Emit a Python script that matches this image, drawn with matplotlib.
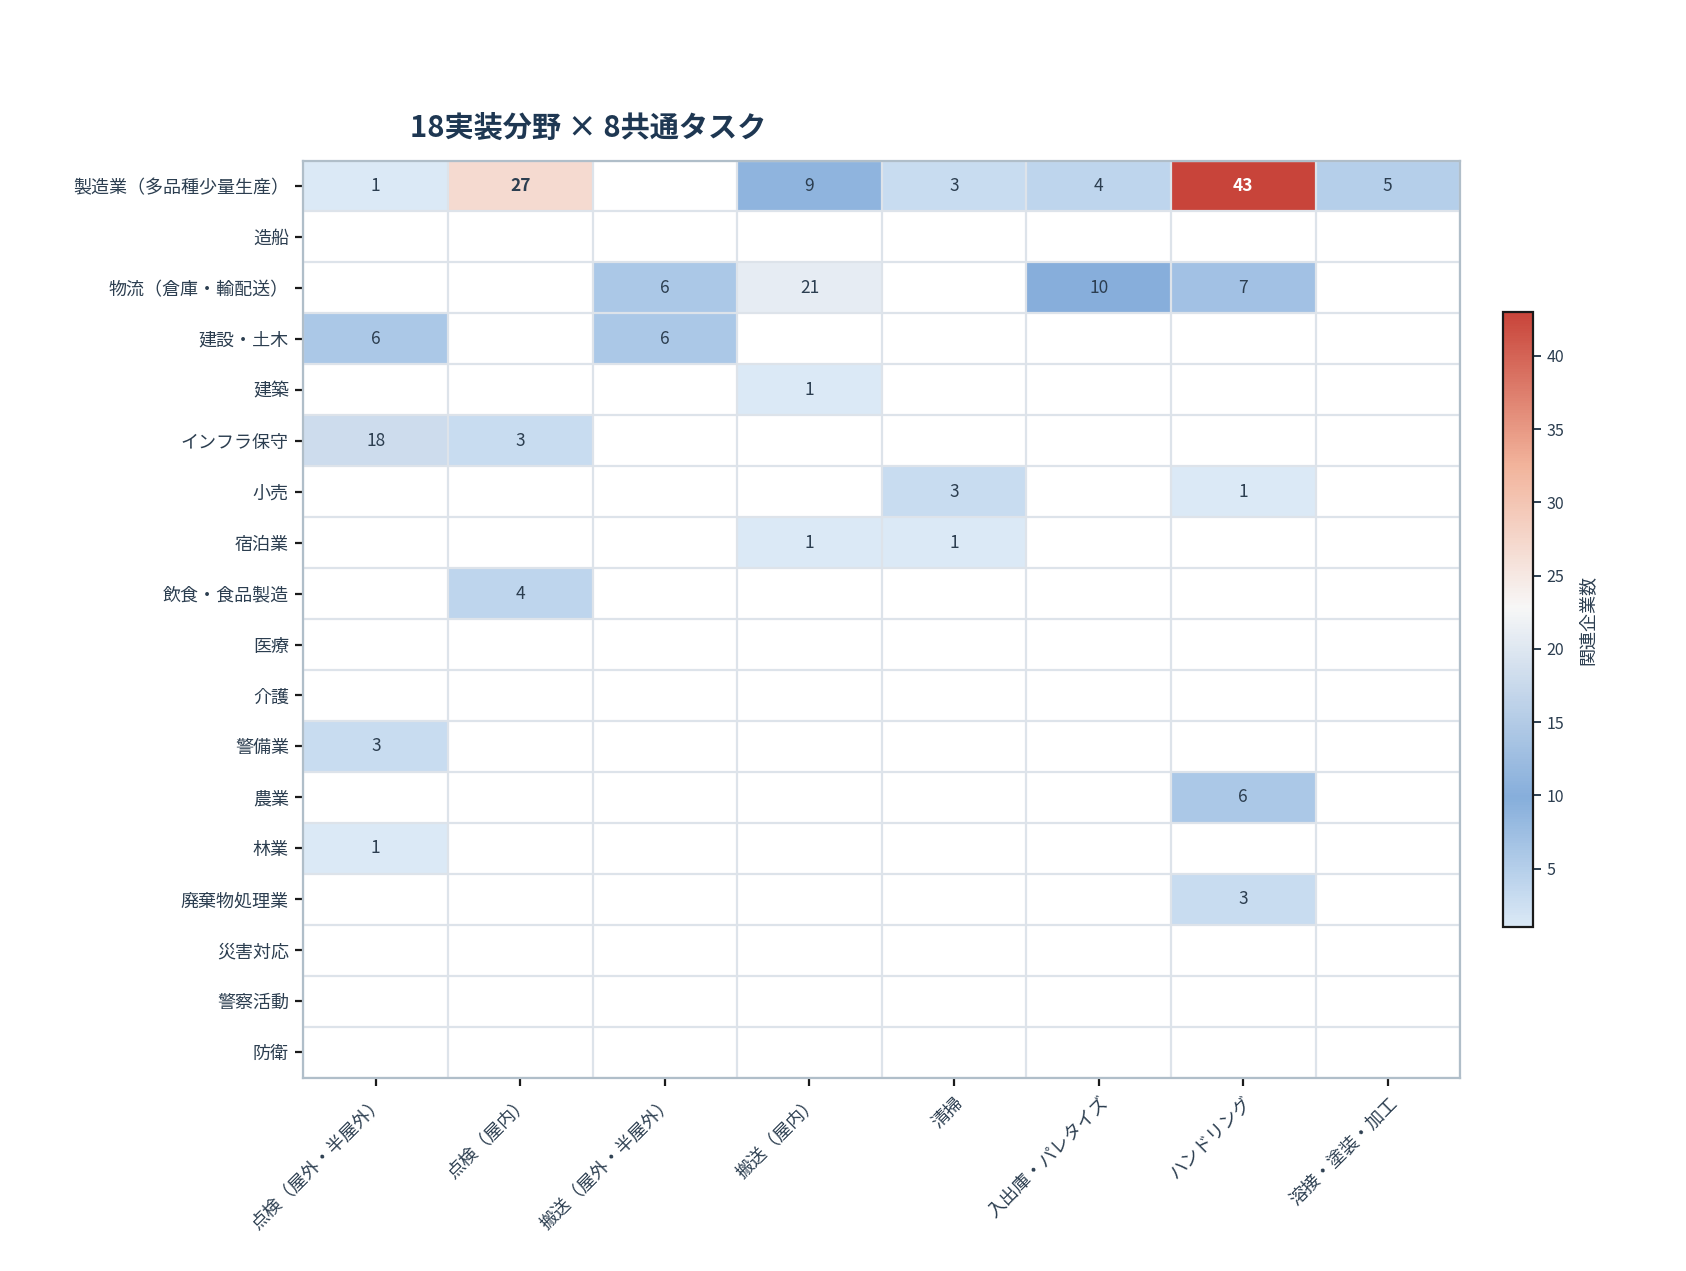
import numpy as np
import matplotlib
matplotlib.use("Agg")
import matplotlib.pyplot as plt
from matplotlib.colors import LinearSegmentedColormap

plt.rcParams['font.family'] = ['Noto Sans CJK JP', 'DejaVu Sans']

fields = ["製造業（多品種少量生産）", "造船", "物流（倉庫・輸配送）", "建設・土木", "建築",
          "インフラ保守", "小売", "宿泊業", "飲食・食品製造", "医療", "介護", "警備業",
          "農業", "林業", "廃棄物処理業", "災害対応", "警察活動", "防衛"]
tasks = ["点検（屋外・半屋外）", "点検（屋内）", "搬送（屋外・半屋外）", "搬送（屋内）",
         "清掃", "入出庫・パレタイズ", "ハンドリング", "溶接・塗装・加工"]

N = np.nan
values = [
    [1, 27, N, 9, 3, 4, 43, 5],
    [N, N, N, N, N, N, N, N],
    [N, N, 6, 21, N, 10, 7, N],
    [6, N, 6, N, N, N, N, N],
    [N, N, N, 1, N, N, N, N],
    [18, 3, N, N, N, N, N, N],
    [N, N, N, N, 3, N, 1, N],
    [N, N, N, 1, 1, N, N, N],
    [N, 4, N, N, N, N, N, N],
    [N, N, N, N, N, N, N, N],
    [N, N, N, N, N, N, N, N],
    [3, N, N, N, N, N, N, N],
    [N, N, N, N, N, N, 6, N],
    [1, N, N, N, N, N, N, N],
    [N, N, N, N, N, N, 3, N],
    [N, N, N, N, N, N, N, N],
    [N, N, N, N, N, N, N, N],
    [N, N, N, N, N, N, N, N],
]

data = np.ma.masked_invalid(np.array(values, dtype=float))
vmin, vmax = 1, 43

cmap = LinearSegmentedColormap.from_list(
    "custom",
    [(0.0, "#dbe9f6"), (0.21, "#86aedb"), (0.52, "#f7f7f7"),
     (0.75, "#f2b49c"), (1.0, "#c8443a")])
cmap.set_bad("white")

text_color = "#2c3e50"

fig = plt.figure(figsize=(16.86, 12.71), dpi=100)
ax = fig.add_axes([0.18, 0.1522, 0.686, 0.7215])
cax = fig.add_axes([0.8915, 0.2704, 0.018, 0.4843])

mesh = ax.pcolormesh(np.arange(len(tasks) + 1), np.arange(len(fields) + 1), data,
                     cmap=cmap, vmin=vmin, vmax=vmax)
ax.set_xlim(0, len(tasks))
ax.set_ylim(len(fields), 0)

ax.set_xticks(np.arange(len(tasks)) + 0.5)
ax.set_xticklabels(tasks, rotation=45, ha="right", rotation_mode="anchor",
                   fontsize=13, color=text_color)
ax.set_yticks(np.arange(len(fields)) + 0.5)
ax.set_yticklabels(fields, fontsize=13, color=text_color)
ax.tick_params(axis="both", length=5.5, width=1.6, color="#1a1a1a")
ax.tick_params(axis="y", pad=5)
ax.tick_params(axis="x", pad=6)

ax.set_xticks(np.arange(len(tasks) + 1), minor=True)
ax.set_yticks(np.arange(len(fields) + 1), minor=True)
ax.tick_params(which="minor", length=0)
ax.grid(which="minor", color="#dde3ea", linewidth=1.6)
ax.grid(which="major", visible=False)
ax.set_axisbelow(False)

for s in ax.spines.values():
    s.set_color("#b0bec9")
    s.set_linewidth(1.6)
    s.set_zorder(5)

for i in range(len(fields)):
    for j in range(len(tasks)):
        v = values[i][j]
        if np.isnan(v):
            continue
        color = "white" if v > 35 else text_color
        weight = "bold" if v > 25 else "normal"
        ax.text(j + 0.5, i + 0.5, f"{int(v)}", ha="center", va="center",
                fontsize=12.5, color=color, fontweight=weight)

cb = fig.colorbar(mesh, cax=cax)
cb.outline.set_edgecolor("#1a1a1a")
cb.outline.set_linewidth(1.6)
cb.set_ticks([5, 10, 15, 20, 25, 30, 35, 40])
cb.ax.tick_params(labelsize=11.5, colors=text_color, length=6, width=1.4)
cb.set_label("関連企業数", fontsize=13, color=text_color, labelpad=10)

fig.text(0.349, 0.8995, "18実装分野 × 8共通タスク", ha="center", va="center",
         fontsize=21, fontweight="bold", color="#1e3752")

fig.savefig("out.png", dpi=100)
